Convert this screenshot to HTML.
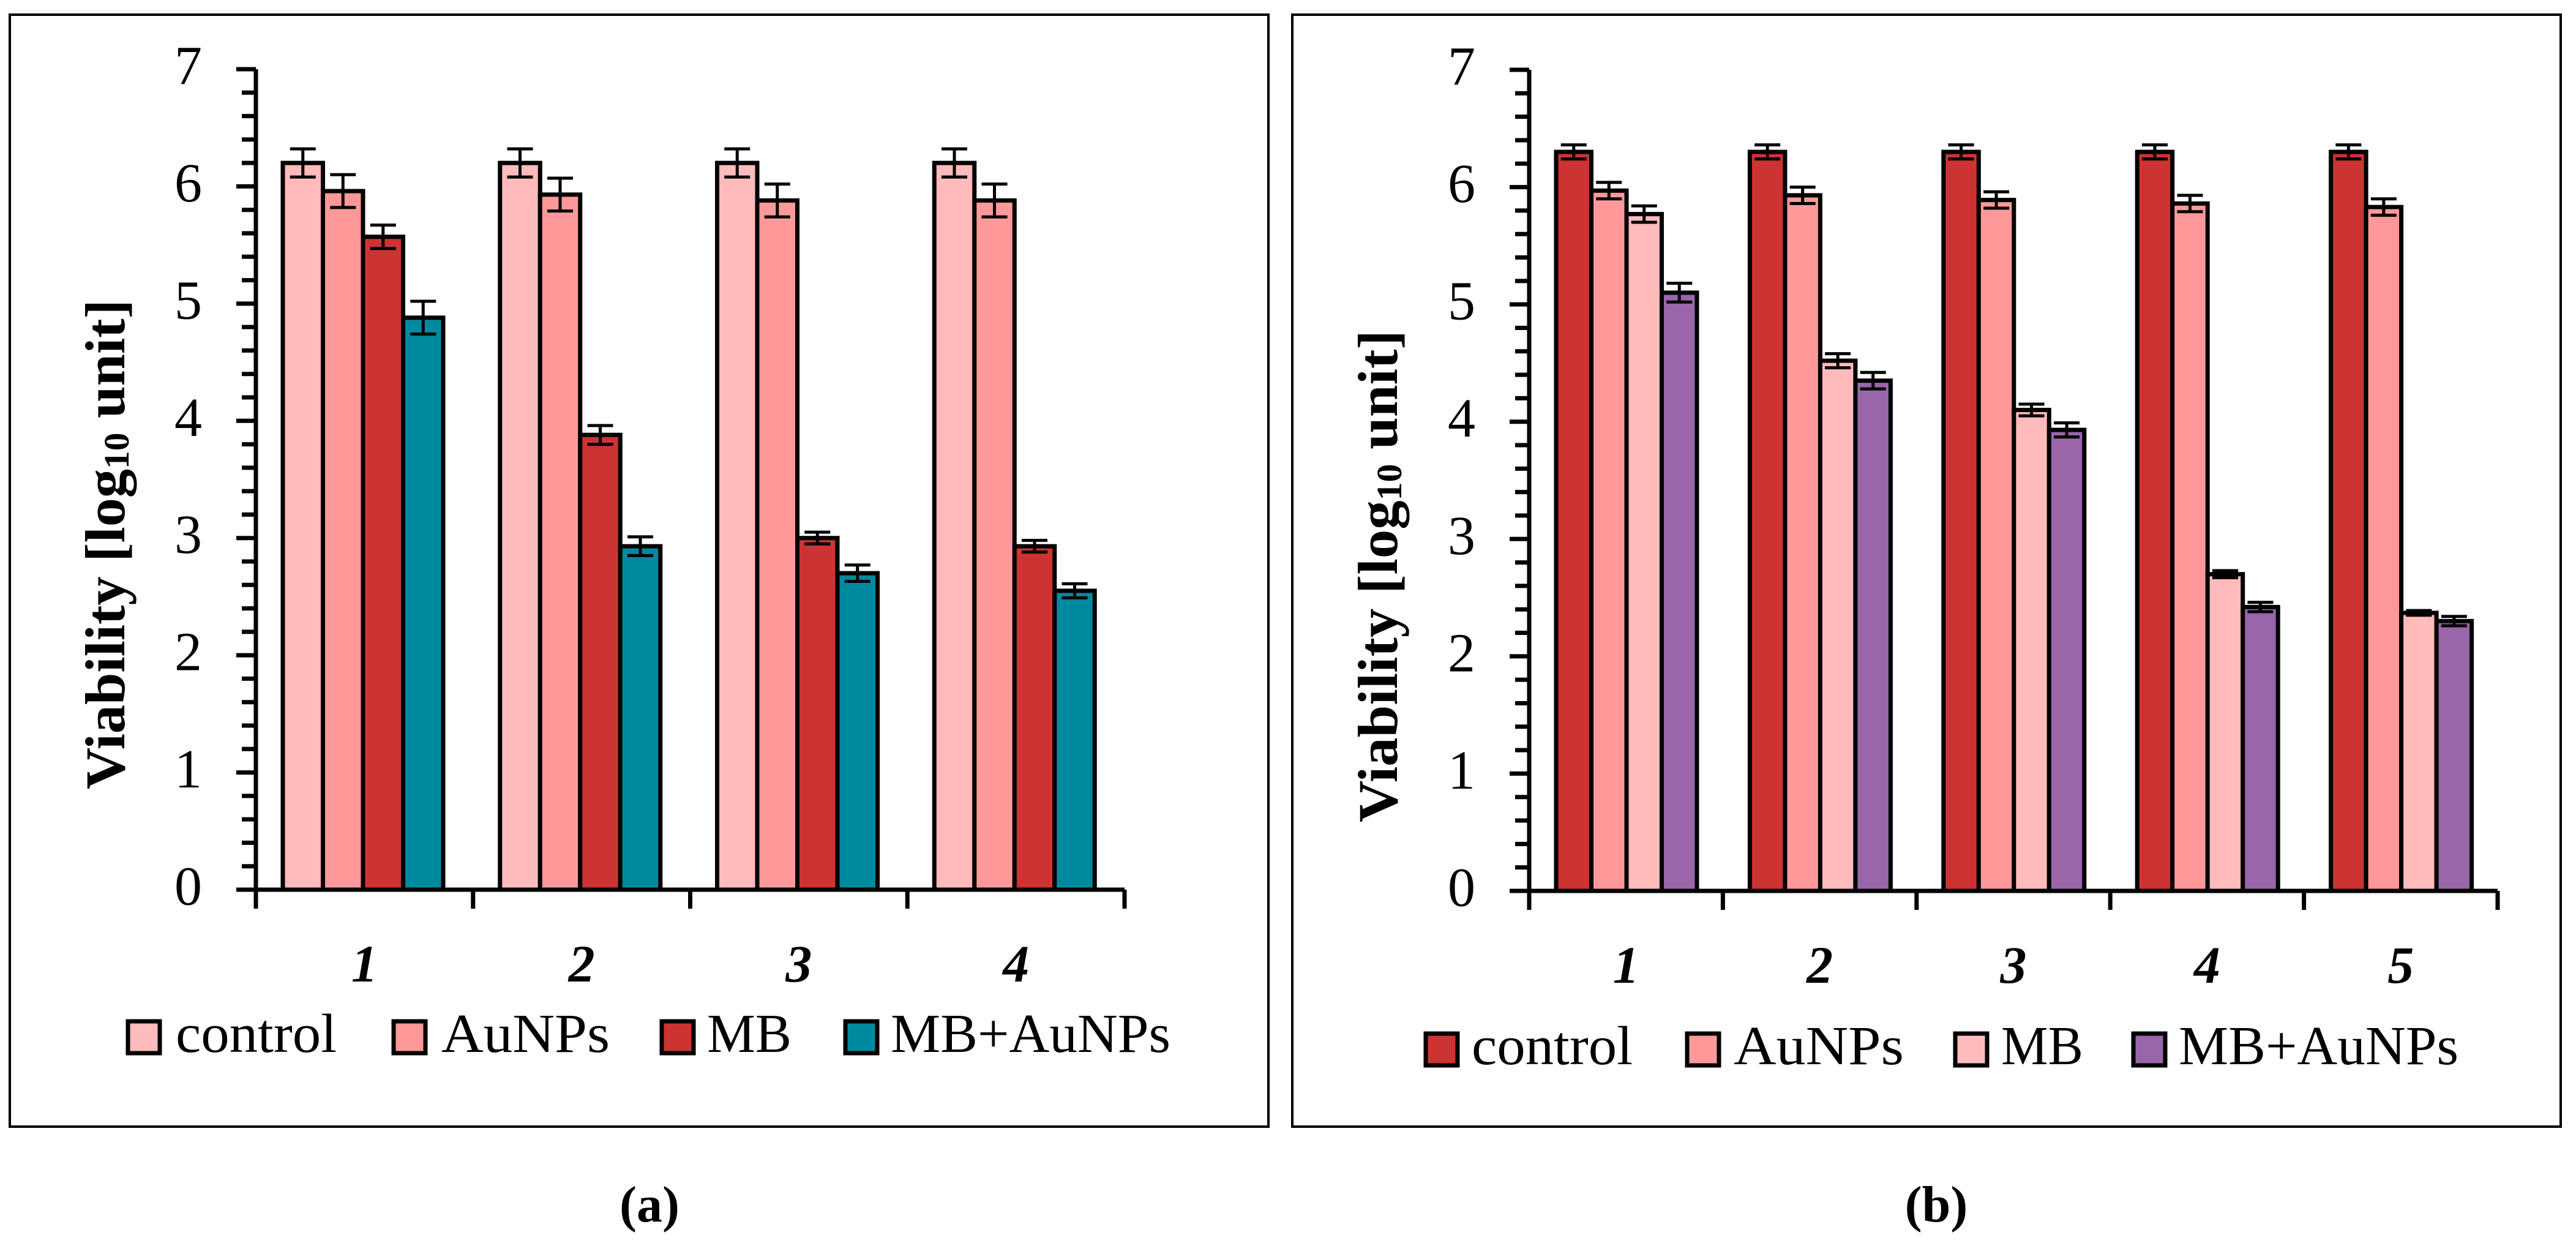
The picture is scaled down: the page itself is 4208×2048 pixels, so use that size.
<!DOCTYPE html>
<html><head><meta charset="utf-8"><style>
html,body{margin:0;padding:0;background:#fff;}
svg{display:block;}
text{font-family:"Liberation Serif",serif;fill:#000;}
</style></head><body>
<svg id="chart" width="4208" height="2048" viewBox="0 0 4208 2048" xmlns="http://www.w3.org/2000/svg">
<rect x="16" y="24" width="2056" height="1816" fill="none" stroke="#000" stroke-width="4"/>
<rect x="2111" y="24" width="2072" height="1816" fill="none" stroke="#000" stroke-width="4"/>
<text x="1061" y="1995" font-size="84" font-weight="bold" text-anchor="middle">(<tspan>a</tspan>)</text>
<text x="3163" y="1995" font-size="84" font-weight="bold" text-anchor="middle">(b)</text>
</svg>
<script>
const seriesNames=["control","AuNPs","MB","MB+AuNPs"];
const catsA=["1","2","3","4"];
const controlA=[6.2,6.2,6.2,6.2];
const auA=[5.96,5.93,5.88,5.88];
const mbA=[5.57,3.88,3.0,2.93];
const mbauA=[4.88,2.93,2.7,2.55];
const errControlA=[0.12,0.12,0.12,0.12];
const errAuA=[0.14,0.14,0.14,0.14];
const errMbA=[0.1,0.08,0.05,0.05];
const errMbauA=[0.14,0.08,0.07,0.06];
const catsB=["1","2","3","4","5"];
const controlB=[6.3,6.3,6.3,6.3,6.3];
const auB=[5.97,5.93,5.89,5.86,5.83];
const mbB=[5.77,4.52,4.1,2.7,2.37];
const mbauB=[5.1,4.35,3.93,2.42,2.3];
const errControlB=[0.06,0.06,0.06,0.06,0.06];
const errAuB=[0.07,0.07,0.07,0.07,0.07];
const errMbB=[0.07,0.06,0.05,0.03,0.02];
const errMbauB=[0.08,0.07,0.06,0.04,0.04];
const yTicks=["0","1","2","3","4","5","6","7"];

const NS="http://www.w3.org/2000/svg";
const svg=document.getElementById('chart');
function mk(tag,attrs,parent){const e=document.createElementNS(NS,tag);for(const k in attrs)e.setAttribute(k,attrs[k]);(parent||svg).appendChild(e);return e;}

function panel(p){
  const g=mk('g',{});
  
  
  const y=v=>p.y0-(v/7)*(p.y0-p.y7);
  const gw=(p.xEnd-p.x0)/p.cats.length;
  // bars
  p.series.forEach((s,si)=>{
    s.vals.forEach((v,ci)=>{
      const bx=p.x0+ci*gw+p.off+si*p.bw;
      const r=mk('rect',{x:bx,y:y(v),width:p.bw,height:y(0)-y(v),fill:s.color,stroke:'#000','stroke-width':7},g);
      
      
      const cx=bx+p.bw/2,e=s.err[ci];
      const eb=mk('path',{d:`M${cx} ${y(v+e)}V${y(v-e)}M${cx-21} ${y(v+e)}H${cx+21}M${cx-21} ${y(v-e)}H${cx+21}`,stroke:'#000','stroke-width':5,fill:'none'},g);
      
      
    });
  });
  // axes
  let d=`M${p.x0} ${p.y7}V${y(0)}H${p.xEnd}`;
  for(let i=0;i<=35;i++){const ty=y(i/5);d+=`M${p.x0-(i%5===0?32:23)} ${ty}H${p.x0}`;}
  for(let i=0;i<=p.cats.length;i++){const tx=p.x0+i*gw;d+=`M${tx} ${y(0)}V${y(0)+31}`;}
  const ax=mk('path',{d:d,stroke:'#000','stroke-width':7,fill:'none'},g);
  
  
  yTicks.forEach((t,i)=>{
    const tt=mk('text',{x:p.x0-88,y:y(+t)-5,'font-size':90,'text-anchor':'end','dominant-baseline':'central'},g);
    tt.textContent=t;
    
    
  });
  p.cats.forEach((c,ci)=>{
    const ct=mk('text',{x:p.x0+(ci+0.5)*gw,y:p.catY,'font-size':86,'font-weight':'bold','font-style':'italic','text-anchor':'middle'},g);
    ct.textContent=c;
    
    
  });
  const yt=mk('text',{transform:`translate(${p.titleX},${p.titleY}) rotate(-90)`,'font-size':92,'font-weight':'bold','text-anchor':'middle','dominant-baseline':'central',textLength:p.titleLen,lengthAdjust:'spacingAndGlyphs'},g);
  yt.innerHTML='Viability [log<tspan font-size="58" dy="18">10</tspan><tspan dy="-18"> unit]</tspan>';
  
  
  // legend
  p.series.forEach((s,si)=>{
    const le=mk('g',{},g);
    
    
    const sw=mk('rect',{x:p.legBox[si],y:p.legY,width:52,height:52,fill:s.color,stroke:'#000','stroke-width':7},le);
    
    
    const lt=mk('text',{x:p.legText[si],y:p.legY+50,'font-size':90,textLength:p.legLen[si],lengthAdjust:'spacingAndGlyphs'},le);
    lt.textContent=seriesNames[si];
    
    
  });
}

panel({id:'panel-a',cats:catsA,x0:418,xEnd:1837,y0:1453,y7:113,bw:65.5,off:44,catY:1603,
  titleX:172,titleY:889,titleLen:800,legY:1668,
  legBox:[209,643,1081,1381],legText:[287,721,1155,1455],legLen:[263,275,138,457],
  series:[
    {key:'control',vals:controlA,err:errControlA,color:'#ffbbbb'},
    {key:'aunps',vals:auA,err:errAuA,color:'#ff9999'},
    {key:'mb',vals:mbA,err:errMbA,color:'#cc3333'},
    {key:'mb-aunps',vals:mbauA,err:errMbauA,color:'#008aa0'}]});
panel({id:'panel-b',cats:catsB,x0:2498,xEnd:4080,y0:1455,y7:114,bw:57.5,off:44,catY:1605,
  titleX:2251,titleY:941,titleLen:804,legY:1688,
  legBox:[2329,2756,3194,3485],legText:[2404,2832,3269,3559],legLen:[263,278,134,457],
  series:[
    {key:'control',vals:controlB,err:errControlB,color:'#cc3333'},
    {key:'aunps',vals:auB,err:errAuB,color:'#ff9999'},
    {key:'mb',vals:mbB,err:errMbB,color:'#ffbbbb'},
    {key:'mb-aunps',vals:mbauB,err:errMbauB,color:'#9966aa'}]});
</script>
</body></html>
